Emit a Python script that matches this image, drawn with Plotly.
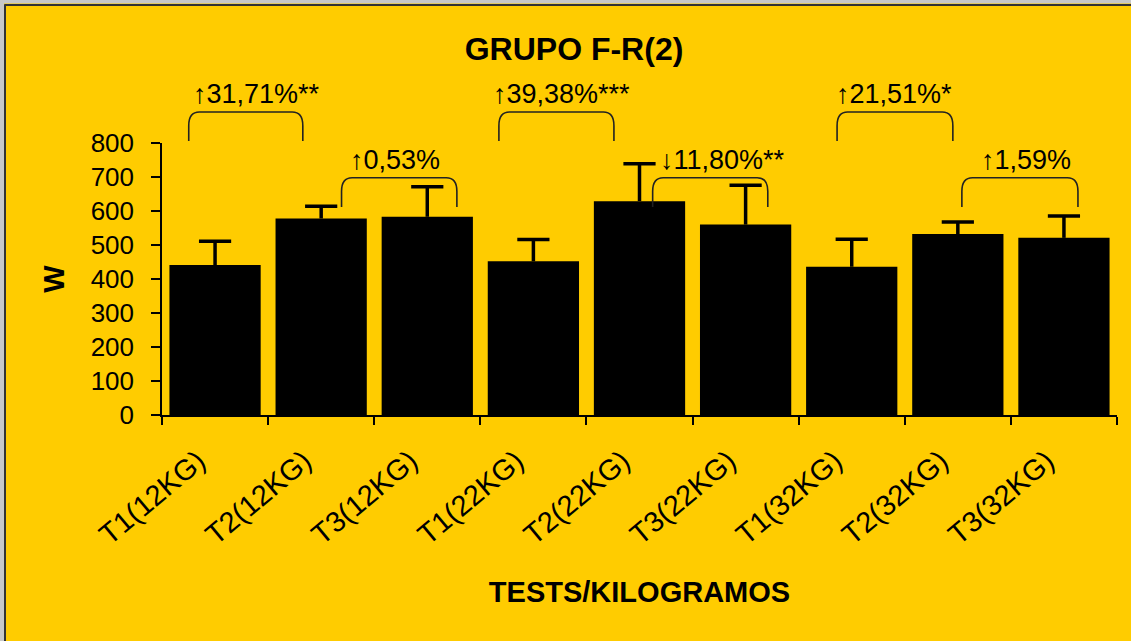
import plotly.graph_objects as go

# ---------------- data ----------------
categories = ["T1(12KG)", "T2(12KG)", "T3(12KG)",
              "T1(22KG)", "T2(22KG)", "T3(22KG)",
              "T1(32KG)", "T2(32KG)", "T3(32KG)"]
mean_w = [441, 578, 583, 452, 629, 560, 436, 532, 521]
sd_w = [70, 36, 88, 64, 110, 116, 81, 36, 64]
comparisons = ["↑31,71%", "↑0,53%", "↑39,38%", "↓11,80%", "↑21,51%", "↑1,59%"]
significance = ["**", "", "***", "**", "*", ""]
y_ticks = [0, 100, 200, 300, 400, 500, 600, 700, 800]

# ---------------- layout helpers ----------------
Y_MAX = 800
BG = "#FFCC00"
FONT = "Liberation Sans, Arial, Helvetica, sans-serif"
W, H = 1131, 641
ML, MR, MT, MB = 162, 14, 143, 226
PW, PH = W - ML - MR, H - MT - MB

def py(v):          # W value -> paper y
    return v / Y_MAX

def ppx(px):        # page pixel x -> paper x
    return (px - ML) / PW

def ppy(pyx):       # page pixel y -> paper y
    return (H - MB - pyx) / PH

# bracket placement: (x start, x end, level, text x)
bracket_pos = [(-0.248, 0.827, "hi", -0.223),
               (1.192, 2.279, "lo", 1.251),
               (2.675, 3.759, "hi", 2.597),
               (4.124, 5.209, "lo", 4.174),
               (5.862, 6.953, "hi", 5.834),
               (7.038, 8.132, "lo", 7.201)]
levels = {"hi": (891, 806, 943), "lo": (698, 612, 749)}   # top, foot, text (W units)

x = list(range(len(categories)))
err_top = [m + s for m, s in zip(mean_w, sd_w)]

fig = go.Figure()
fig.add_trace(go.Bar(
    x=x, y=mean_w, width=0.86,
    marker=dict(color="black", line=dict(width=0)),
    error_y=dict(type="data", symmetric=False, array=sd_w,
                 arrayminus=[0] * len(sd_w), color="black",
                 thickness=3.5, width=0),
    hoverinfo="skip",
))
# caps of the error bars
fig.add_trace(go.Scatter(
    x=x, y=err_top, mode="markers",
    marker=dict(symbol="line-ew-open", size=23, color="black",
                line=dict(color="black", width=3.5)),
    hoverinfo="skip", cliponaxis=False,
))

shapes = []
annotations = []
rx, ry = 0.1, 0.05
for (x0, x1, lvl, tx), comp, sig in zip(bracket_pos, comparisons, significance):
    top, foot, ty = levels[lvl]
    yt, yf = py(top), py(foot)
    path = (f"M {x0},{yf} L {x0},{yt - ry} Q {x0},{yt} {x0 + rx},{yt} "
            f"L {x1 - rx},{yt} Q {x1},{yt} {x1},{yt - ry} L {x1},{yf}")
    shapes.append(dict(type="path", path=path, xref="x", yref="paper",
                       line=dict(color="#222222", width=1.6)))
    annotations.append(dict(text=comp + sig, x=tx, y=py(ty), xref="x", yref="paper",
                            xanchor="left", yanchor="middle", showarrow=False,
                            font=dict(family=FONT, size=27, color="black")))

# x axis line extends a little left of the y axis, as in the original
shapes.append(dict(type="line", xref="paper", yref="paper", x0=ppx(152), x1=0,
                   y0=0, y1=0, line=dict(color="black", width=1.5)))

# outer frame (page border)
shapes += [
    dict(type="rect", xref="paper", yref="paper", x0=ppx(0), x1=ppx(4),
         y0=ppy(H), y1=ppy(0), fillcolor="#c8c8c8", line=dict(width=0), layer="below"),
    dict(type="rect", xref="paper", yref="paper", x0=ppx(0), x1=ppx(W),
         y0=ppy(3.5), y1=ppy(0), fillcolor="#c8c8c8", line=dict(width=0), layer="below"),
    dict(type="line", xref="paper", yref="paper", x0=ppx(5), x1=ppx(5),
         y0=ppy(H), y1=ppy(4.5), line=dict(color="#333333", width=2)),
    dict(type="line", xref="paper", yref="paper", x0=ppx(4.5), x1=ppx(W),
         y0=ppy(5), y1=ppy(5), line=dict(color="#333333", width=2)),
]

fig.update_layout(
    width=W, height=H,
    margin=dict(l=ML, r=MR, t=MT, b=MB, pad=0),
    paper_bgcolor=BG, plot_bgcolor=BG,
    showlegend=False,
    font=dict(family=FONT, color="black"),
    title=dict(text="<b>GRUPO F-R(2)</b>", x=574 / W, xanchor="center",
               xref="container", yref="container", y=1 - 48.5 / H,
               yanchor="middle", font=dict(family=FONT, size=32, color="black")),
    xaxis=dict(range=[-0.5, len(categories) - 0.5], tickmode="array",
               tickvals=x, ticktext=categories, tickangle=-40,
               ticks="outside", ticklen=0, ticklabelstandoff=16,
               ticklabelshift=-17,
               tickfont=dict(family=FONT, size=29, color="black"),
               minor=dict(tickmode="array",
                          tickvals=[i - 0.5 for i in range(len(categories) + 1)],
                          ticks="outside", ticklen=8, tickwidth=1.5, tickcolor="black"),
               showline=True, linecolor="black", linewidth=1.5,
               showgrid=False, zeroline=False, fixedrange=True,
               title=dict(text="<b>TESTS/KILOGRAMOS</b>", standoff=32,
                          font=dict(family=FONT, size=29, color="black"))),
    yaxis=dict(range=[0, Y_MAX], tickmode="array", tickvals=y_ticks,
               ticks="outside", ticklen=9, tickwidth=1.5, tickcolor="black",
               ticklabelstandoff=12,
               tickfont=dict(family=FONT, size=26, color="black"),
               showline=True, linecolor="black", linewidth=1.5,
               showgrid=False, zeroline=False, fixedrange=True,
               title=dict(text="<b>W</b>", standoff=18,
                          font=dict(family=FONT, size=29, color="black"))),
    shapes=shapes, annotations=annotations,
)

fig.write_html("out.html", config={"displayModeBar": False},
               post_script=("document.documentElement.style.overflow='hidden';"
                            "document.body.style.margin='0';"
                            "document.body.style.overflow='hidden';"))
